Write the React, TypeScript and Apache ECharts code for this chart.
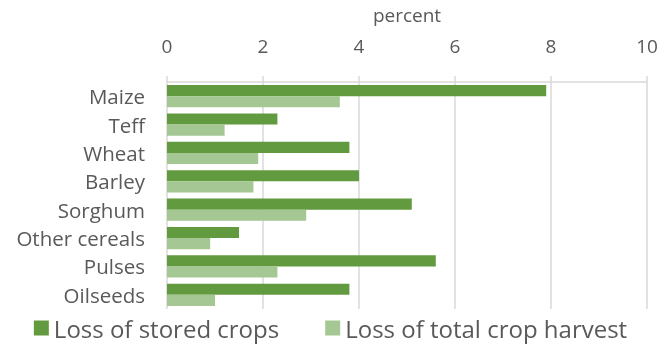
import React, { useEffect, useRef } from "react";
import * as echarts from "echarts";

const categories = ["Maize", "Teff", "Wheat", "Barley", "Sorghum", "Other cereals", "Pulses", "Oilseeds"];
const storedLoss = [7.9, 2.3, 3.8, 4.0, 5.1, 1.5, 5.6, 3.8];
const totalLoss = [3.6, 1.2, 1.9, 1.8, 2.9, 0.9, 2.3, 1.0];
const seriesNames = ["Loss of stored crops", "Loss of total crop harvest"];

export default function App() {
  const ref = useRef<HTMLDivElement>(null);
  useEffect(() => {
    if (!ref.current) return;
    const chart = echarts.init(ref.current, null, { renderer: "svg" });
    const font = "'Open Sans', 'Liberation Sans', sans-serif";
    chart.setOption({
      animation: false,
      textStyle: { fontFamily: font },
      grid: { left: 167, right: 14, top: 75, bottom: 36, containLabel: false },
      xAxis: {
        type: "value",
        position: "top",
        min: 0,
        max: 10,
        interval: 2,
        name: "percent",
        nameLocation: "middle",
        nameGap: 58,
        nameTextStyle: { color: "#595959", fontSize: 19, fontFamily: font },
        axisLine: { show: true, lineStyle: { color: "#d9d9d9", width: 1.5 } },
        axisTick: { show: true, length: 6, lineStyle: { color: "#d9d9d9", width: 1.5 } },
        axisLabel: { color: "#595959", fontSize: 19, margin: 27, fontFamily: font },
        splitLine: { show: true, lineStyle: { color: "#d9d9d9", width: 1.5 } },
      },
      yAxis: {
        type: "category",
        data: categories,
        inverse: true,
        axisLine: { show: false },
        axisTick: { show: false },
        axisLabel: { color: "#595959", fontSize: 20.5, margin: 22, fontFamily: font },
      },
      legend: {
        bottom: 0,
        left: "center",
        itemWidth: 15,
        itemHeight: 15,
        itemGap: 46,
        icon: "rect",
        textStyle: { color: "#595959", fontSize: 24, fontFamily: font },
        data: seriesNames,
      },
      series: [
        {
          name: seriesNames[0],
          type: "bar",
          data: storedLoss,
          itemStyle: { color: "#629A3F" },
          barGap: "0%",
          barCategoryGap: "22%",
        },
        {
          name: seriesNames[1],
          type: "bar",
          data: totalLoss,
          itemStyle: { color: "#A5C793" },
          barGap: "0%",
          barCategoryGap: "22%",
        },
      ],
    });
    return () => chart.dispose();
  }, []);
  return <div ref={ref} style={{ width: 661, height: 345, position: "fixed", left: 0, top: 0 }} />;
}
